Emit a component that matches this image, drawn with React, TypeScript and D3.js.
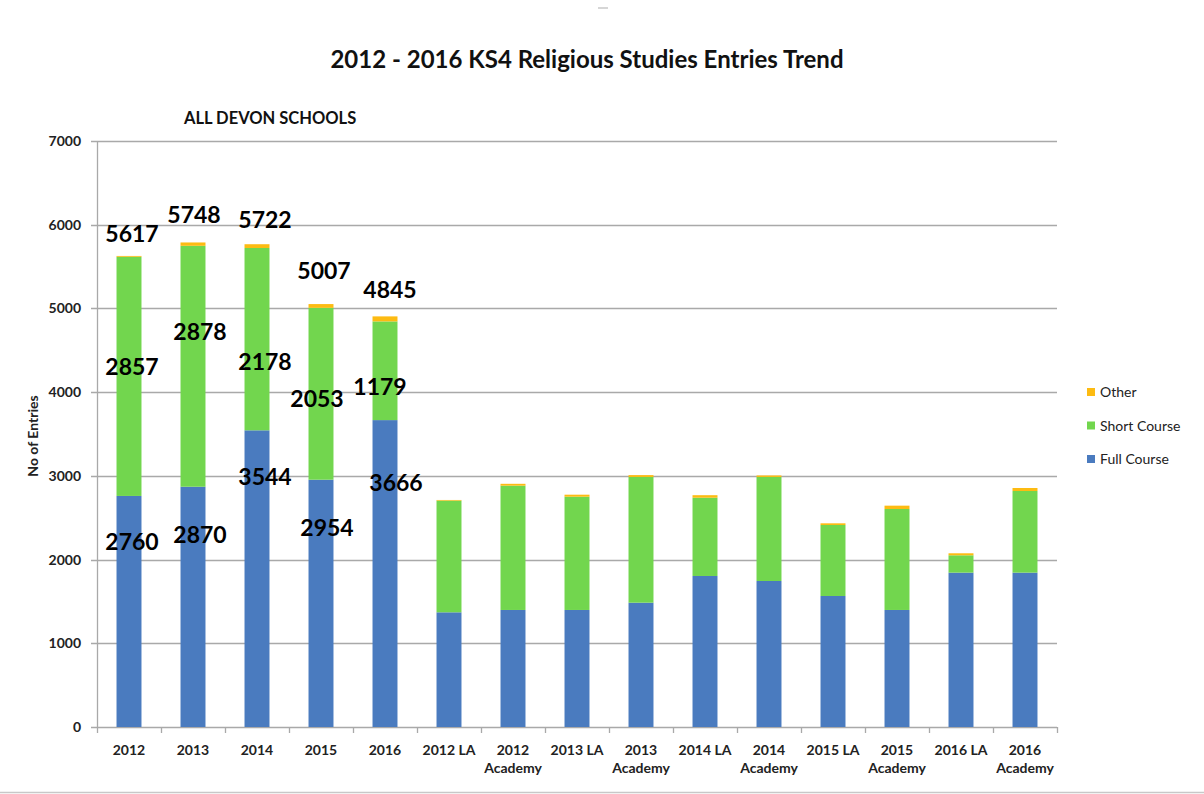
import React from "react";
import * as d3 from "d3";

const categories = ["2012","2013","2014","2015","2016","2012 LA","2012 Academy","2013 LA","2013 Academy","2014 LA","2014 Academy","2015 LA","2015 Academy","2016 LA","2016 Academy"];
const fullCourse = [2760,2870,3544,2954,3666,1370,1398,1398,1485,1804,1744,1565,1398,1844,1844];
const shortCourse = [2857,2878,2178,2053,1179,1334,1485,1353,1502,935,1243,848,1206,207,975];
const other = [10,40,45,45,60,8,22,24,22,30,18,20,40,24,36];
const seriesNames = ["Full Course","Short Course","Other"];
const seriesColors = ["#4a7bbf","#72d64e","#fdbb12"];
const yTicks = [0,1000,2000,3000,4000,5000,6000,7000];

// free-floating data labels on the first five bars (anchor value in data units, dx in px)
const labelledCount = 5;
const totalLabelAt = [5889,6116,6057,5447,5220];
const totalLabelDx = [3,1,8,3,5];
const shortLabelAt = [4300,4719,4360,3918,4062];
const shortLabelDx = [3,7,8,-4,-5];
const fullLabelAt = [2210,2294,2987,2377,2915];
const fullLabelDx = [3,7,8,6,11];

const W = 1204, H = 794;
const FONT = "Lato, 'Liberation Sans', Arial, sans-serif";

export default function App() {
  const x = d3.scaleBand<string>().domain(categories).range([97, 1057]).paddingInner(0.61).paddingOuter(0.305);
  const y = d3.scaleLinear().domain([0, 7000]).range([727, 141]);
  const rows = categories.map((c, i) => ({ cat: c, "Full Course": fullCourse[i], "Short Course": shortCourse[i], "Other": other[i] }));
  const stack = d3.stack<any>().keys(seriesNames)(rows);
  const step = x.step();

  const labels: { text: string; x: number; y: number }[] = [];
  for (let i = 0; i < labelledCount; i++) {
    const cx = (x(categories[i]) as number) + x.bandwidth() / 2;
    labels.push({ text: String(fullCourse[i] + shortCourse[i]), x: cx + totalLabelDx[i], y: y(totalLabelAt[i]) });
    labels.push({ text: String(shortCourse[i]), x: cx + shortLabelDx[i], y: y(shortLabelAt[i]) });
    labels.push({ text: String(fullCourse[i]), x: cx + fullLabelDx[i], y: y(fullLabelAt[i]) });
  }

  return (
    <svg width={W} height={H} style={{ position: "absolute", left: 0, top: 0, background: "#fff" }} fontFamily={FONT}>
      <rect x={0} y={0} width={W} height={H} fill="#fff" />
      <line x1={598} x2={608} y1={8} y2={8} stroke="#c8c8c8" strokeWidth={1.5} />
      <line x1={0} x2={W} y1={792.5} y2={792.5} stroke="#c8c8c8" strokeWidth={1.5} />
      <text x={587} y={68} textAnchor="middle" fontSize={24} fontWeight={700} fill="#111">2012 - 2016 KS4 Religious Studies Entries Trend</text>
      <text x={184} y={124} fontSize={16.5} fontWeight={700} fill="#111">ALL DEVON SCHOOLS</text>

      {yTicks.map(t => (
        <g key={t}>
          <line x1={91} x2={1057} y1={Math.round(y(t)) + 0.5} y2={Math.round(y(t)) + 0.5} stroke="#a9a9a9" strokeWidth={1.3} />
          <text x={81} y={y(t) + 5} textAnchor="end" fontSize={14} fontWeight={700} fill="#222">{t}</text>
        </g>
      ))}
      <line x1={97.5} x2={97.5} y1={141} y2={727} stroke="#a9a9a9" strokeWidth={1.3} />
      {d3.range(categories.length + 1).map(k => (
        <line key={k} x1={97.5 + k * step} x2={97.5 + k * step} y1={727} y2={733} stroke="#a9a9a9" strokeWidth={1.3} />
      ))}

      <text transform="translate(38,436) rotate(-90)" textAnchor="middle" fontSize={14} fontWeight={700} fill="#222">No of Entries</text>

      {stack.map((s, si) => (
        <g key={si} fill={seriesColors[si]}>
          {s.map((d, i) => (
            <rect key={i} x={x(categories[i])} width={x.bandwidth()} y={y(d[1])} height={Math.max(0, y(d[0]) - y(d[1]))} />
          ))}
        </g>
      ))}

      {categories.map(c => {
        const cx = (x(c) as number) + x.bandwidth() / 2;
        const parts = c.endsWith(" Academy") ? [c.replace(" Academy", ""), "Academy"] : [c];
        return (
          <text key={c} x={cx} y={755} textAnchor="middle" fontSize={14} fontWeight={700} fill="#222">
            {parts.map((p, j) => (
              <tspan key={j} x={cx} dy={j === 0 ? 0 : 18}>{p}</tspan>
            ))}
          </text>
        );
      })}

      {labels.map((l, i) => (
        <text key={i} x={l.x} y={l.y + 8} textAnchor="middle" fontSize={23} fontWeight={700} fill="#000">{l.text}</text>
      ))}

      {seriesNames.slice().reverse().map((n, j) => {
        const si = seriesNames.length - 1 - j;
        const ly = 392 + j * 33.5;
        return (
          <g key={n}>
            <rect x={1087} y={ly - 4} width={8} height={8} fill={seriesColors[si]} />
            <text x={1100} y={ly + 5} fontSize={14} fill="#222">{n}</text>
          </g>
        );
      })}
    </svg>
  );
}
